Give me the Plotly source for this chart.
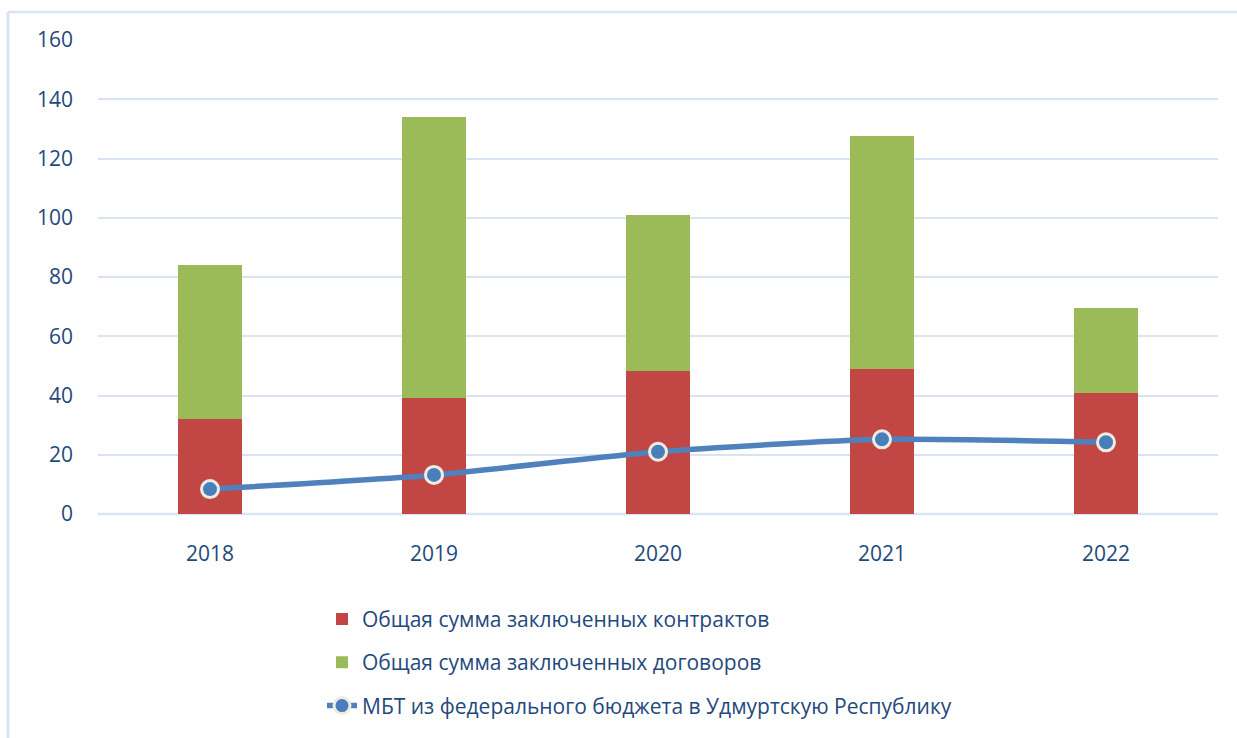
import plotly.graph_objects as go

years = ["2018", "2019", "2020", "2021", "2022"]
contracts = [32, 39, 48.3, 49, 41]
agreements = [52, 95, 52.7, 78.6, 28.5]
mbt = [8.4, 13.2, 21.0, 25.2, 24.2]

names = [
    "Общая сумма заключенных контрактов",
    "Общая сумма заключенных договоров",
    "МБТ из федерального бюджета в Удмуртскую Республику",
]

FONT = "Open Sans"
TXT = "#1F497D"
GRID = "#D9E3F2"

fig = go.Figure()
fig.add_trace(go.Bar(
    x=years, y=contracts, name=names[0], legendgroup="a",
    marker=dict(color="#C24744", line=dict(width=0)), width=0.29,
))
fig.add_trace(go.Bar(
    x=years, y=agreements, name=names[1], legendgroup="b",
    marker=dict(color="#9BBB59", line=dict(width=0)), width=0.29,
))
fig.add_trace(go.Scatter(
    x=years, y=mbt, name=names[2], legendgroup="c", mode="lines+markers",
    line=dict(color="#4F81BD", width=5.5, shape="spline", smoothing=0.6),
    marker=dict(symbol="circle", size=17, color="#4A7EBB",
                line=dict(color="#EEECE1", width=3)),
))

fig.update_layout(
    width=1237, height=738,
    margin=dict(l=98, r=19, t=40, b=224),
    paper_bgcolor="white", plot_bgcolor="white",
    barmode="stack",
    font=dict(family=FONT, size=21, color=TXT),
    showlegend=True,
    legend=dict(
        x=0.2, xanchor="left", y=-0.179, yanchor="top",
        traceorder="grouped", tracegroupgap=13,
        font=dict(family=FONT, size=21, color=TXT),
        bgcolor="rgba(0,0,0,0)",
    ),
    xaxis=dict(
        showgrid=False, showline=False, zeroline=False, ticks="",
        tickfont=dict(family=FONT, size=21, color=TXT),
        ticklabelstandoff=25,
    ),
    yaxis=dict(
        range=[0, 160], dtick=20, showgrid=True, gridcolor=GRID, gridwidth=2,
        zeroline=False, showline=False, ticks="",
        tickfont=dict(family=FONT, size=21, color=TXT),
        ticklabelstandoff=24,
    ),
    shapes=[
        dict(type="line", xref="paper", yref="paper",
             x0=0, x1=1, y0=0, y1=0, line=dict(color=GRID, width=2.5), layer="below"),
        dict(type="line", xref="paper", yref="paper",
             x0=-0.0804, x1=1.03, y0=1.059, y1=1.059, line=dict(color=GRID, width=2.5)),
        dict(type="line", xref="paper", yref="paper",
             x0=-0.0804, x1=-0.0804, y0=1.059, y1=-0.55, line=dict(color=GRID, width=3)),
    ],
)

fig.write_html("out.html")
